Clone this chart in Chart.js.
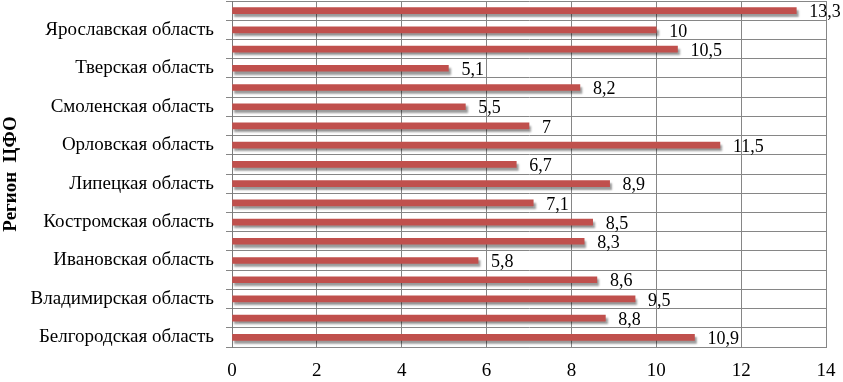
<!DOCTYPE html>
<html><head><meta charset="utf-8">
<script src="https://cdn.jsdelivr.net/npm/chart.js@4"></script>
<style>html,body{margin:0;padding:0;background:#fff}#w{width:843px;height:382px}</style>
</head><body><div id="w"><canvas id="c"></canvas></div>
<script>
const categories = ["Белгородская область","Брянская область","Владимирская область","Воронежская область","Ивановская область","Калужская область","Костромская область","Курская область","Липецкая область","Московская область","Орловская область","Рязанская область","Смоленская область","Тамбовская область","Тверская область","Тульская область","Ярославская область","г. Москва"];
const values = [10.9,8.8,9.5,8.6,5.8,8.3,8.5,7.1,8.9,6.7,11.5,7,5.5,8.2,5.1,10.5,10,13.3];
const xTicks = [0,2,4,6,8,10,12,14];
const axisTitle = "Регион  ЦФО";
const serif = "'Liberation Serif','Times New Roman',serif";

const shadowPlugin = {
  id:'shadow',
  beforeDatasetDraw(chart){const c=chart.ctx;c.save();c.shadowColor='rgba(0,0,0,0.4)';c.shadowBlur=2;c.shadowOffsetX=2;c.shadowOffsetY=3;},
  afterDatasetDraw(chart){chart.ctx.restore();}
};
const labelPlugin = {
  id:'vals',
  afterDatasetsDraw(chart){
    const c=chart.ctx;const meta=chart.getDatasetMeta(0);
    c.save();c.font="18px "+serif;c.fillStyle='#000';c.textBaseline='middle';c.textAlign='left';
    meta.data.forEach((el,i)=>{c.fillText(String(values[i]).replace('.',','),el.x+13,el.y+2);});
    c.restore();
  }
};
new Chart(document.getElementById('c'),{
  type:'bar',
  data:{labels:categories,datasets:[{data:values,backgroundColor:'#C0504D',barThickness:6}]},
  options:{
    indexAxis:'y',responsive:true,maintainAspectRatio:false,animation:false,
    layout:{padding:{left:0,right:17,top:1,bottom:0}},
    plugins:{legend:{display:false},tooltip:{enabled:false}},
    scales:{
      x:{min:0,max:14,afterBuildTicks(s){s.ticks=xTicks.map(v=>({value:v}));},
        grid:{color:'#868686',lineWidth:1,tickLength:0,drawTicks:false},
        border:{color:'#868686'},
        ticks:{font:{family:serif,size:19},color:'#000',padding:13},
        afterFit(s){s.height=35;s.paddingLeft=0;s.paddingRight=0;}},
      y:{reverse:true,
        grid:{color:'#868686',offset:true,tickLength:6},
        border:{color:'#7a7a7a'},
        ticks:{autoSkip:false,font:{family:serif,size:19},color:'#000',padding:12,
          callback(v,i){return i%2===0?categories[i]:'';}},
        title:{display:true,text:axisTitle,font:{family:serif,size:19,weight:'bold'},color:'#000',padding:0},
        afterFit(s){s.width=232;s.paddingTop=0;s.paddingBottom=0;}}
    }
  },
  plugins:[shadowPlugin,labelPlugin]
});
</script></body></html>
